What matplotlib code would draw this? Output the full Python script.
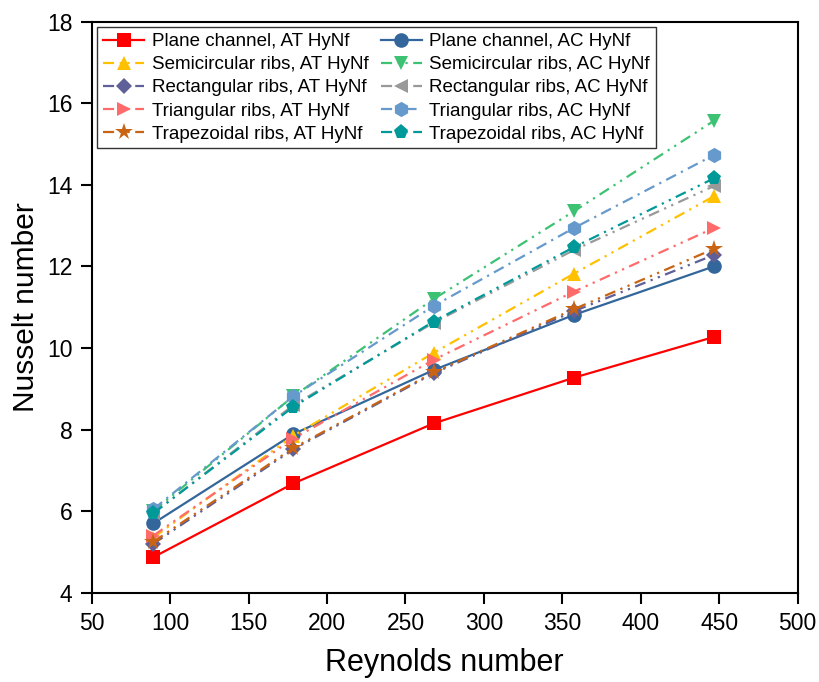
import matplotlib
matplotlib.use("Agg")
import matplotlib.pyplot as plt

plt.rcParams['font.family'] = ['Liberation Sans', 'DejaVu Sans']

# Reynolds numbers
re = [89.3, 178.6, 267.9, 357.2, 446.5]

# Nusselt numbers
plane_at = [4.87, 6.68, 8.15, 9.27, 10.27]
plane_ac = [5.70, 7.89, 9.46, 10.81, 12.00]
semi_at = [5.35, 7.85, 9.88, 11.82, 13.72]
semi_ac = [6.00, 8.82, 11.20, 13.35, 15.57]
rect_at = [5.20, 7.52, 9.38, 10.90, 12.28]
rect_ac = [5.95, 8.60, 10.62, 12.40, 13.97]
tri_at = [5.40, 7.78, 9.71, 11.38, 12.94]
tri_ac = [6.05, 8.82, 11.03, 12.94, 14.73]
trap_at = [5.25, 7.55, 9.40, 10.95, 12.43]
trap_ac = [5.95, 8.56, 10.65, 12.47, 14.16]

dashdotdot = (0, (5, 2.5, 1, 2.5, 1, 2.5))
dashdot = (0, (5, 2.5, 1, 2.5))

series = [
    ("Plane channel, AT HyNf", plane_at, '#ff0000', 's', '-', 9.5),
    ("Plane channel, AC HyNf", plane_ac, '#33669a', 'o', '-', 10.5),
    ("Semicircular ribs, AT HyNf", semi_at, '#ffc000', '^', dashdotdot, 10.5),
    ("Semicircular ribs, AC HyNf", semi_ac, '#3cc272', 'v', dashdotdot, 10.5),
    ("Rectangular ribs, AT HyNf", rect_at, '#5f5f99', 'D', dashdotdot, 8.5),
    ("Rectangular ribs, AC HyNf", rect_ac, '#999999', '<', dashdotdot, 10.5),
    ("Triangular ribs, AT HyNf", tri_at, '#ff6b6b', '>', dashdotdot, 10.5),
    ("Triangular ribs, AC HyNf", tri_ac, '#6699cc', 'h', dashdot, 11),
    ("Trapezoidal ribs, AT HyNf", trap_at, '#c86414', '*', dashdotdot, 13),
    ("Trapezoidal ribs, AC HyNf", trap_ac, '#009999', 'p', dashdotdot, 11),
]

fig = plt.figure(figsize=(8.19, 6.82), dpi=100)
ax = fig.add_axes([0.112, 0.131, 0.862, 0.837])

handles = {}
for label, vals, color, mk, ls, ms in series:
    h, = ax.plot(re, vals, color=color, marker=mk, linestyle=ls, linewidth=1.6,
                 markersize=ms, markeredgewidth=0, label=label)
    handles[label] = h

# legend filled column-wise: AT in left column, AC in right column
order = [s[0] for s in series[0::2]] + [s[0] for s in series[1::2]]
leg = ax.legend([handles[k] for k in order], order, loc='upper left', ncol=2,
                fontsize=13.5, frameon=True, fancybox=False, edgecolor='black',
                handlelength=2.2, handletextpad=0.4, columnspacing=0.65,
                labelspacing=0.32, borderpad=0.3, borderaxespad=0.3)
leg.get_frame().set_linewidth(1.0)

ax.set_xlim(50, 500)
ax.set_ylim(4, 18)
ax.set_xticks([50, 100, 150, 200, 250, 300, 350, 400, 450, 500])
ax.set_yticks([4, 6, 8, 10, 12, 14, 16, 18])
ax.tick_params(direction='out', length=8, width=1.5, labelsize=16.5, pad=6,
               top=False, right=False)
for sp in ax.spines.values():
    sp.set_linewidth(1.5)

ax.set_xlabel("Reynolds number", fontsize=22, labelpad=9)
ax.set_ylabel("Nusselt number", fontsize=21.5, labelpad=5)

fig.savefig("out.png", dpi=100)
